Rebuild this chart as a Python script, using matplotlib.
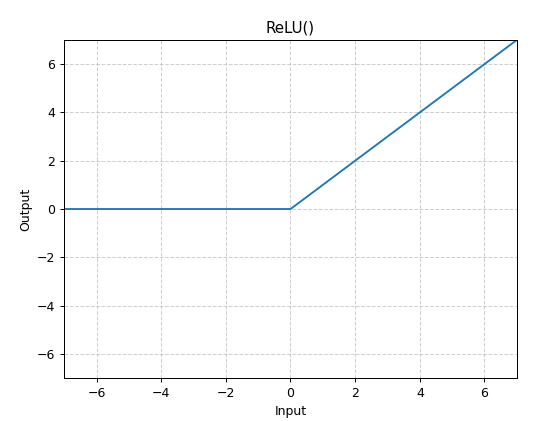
import matplotlib
matplotlib.use("Agg")
import matplotlib.pyplot as plt

# ReLU breakpoints
X_VALUES = [-7, 0, 7]
Y_VALUES = [0, 0, 7]

DPI = 90
fig = plt.figure(figsize=(544 / DPI, 421 / DPI), dpi=DPI)
ax = fig.add_axes([0.118, 0.102, 0.832, 0.803])

ax.plot(X_VALUES, Y_VALUES, color="#1f77b4")
ax.set_xlim(-7, 7)
ax.set_ylim(-7, 7)
ax.set_title("ReLU()")
ax.set_xlabel("Input")
ax.set_ylabel("Output")
ax.grid(True, linestyle="--", alpha=0.6)

fig.savefig("out.png", dpi=DPI)
